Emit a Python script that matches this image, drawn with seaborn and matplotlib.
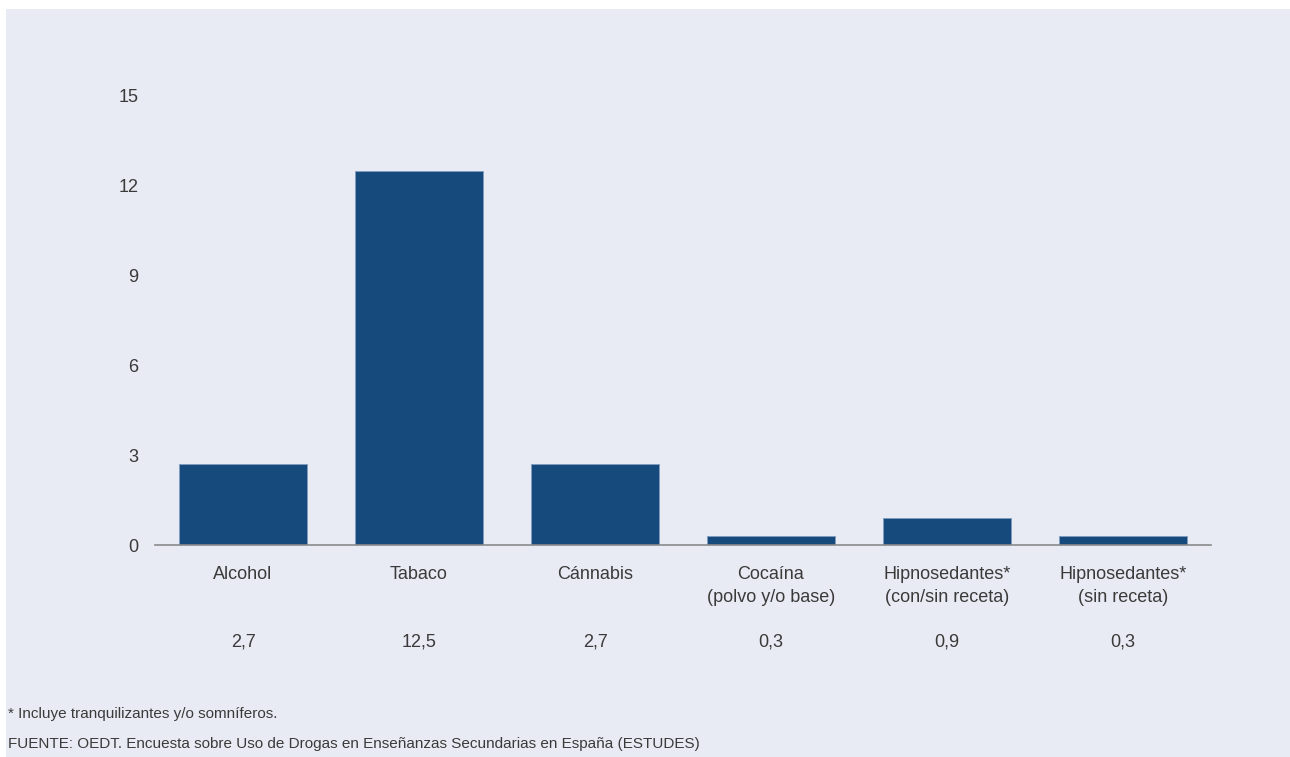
"""
plot.py
-------
Bar chart of consumption prevalence by substance (ESTUDES), seaborn version.
"""

import matplotlib
matplotlib.use("Agg")
import matplotlib.pyplot as plt
from matplotlib.patches import Rectangle
from matplotlib.transforms import blended_transform_factory
import pandas as pd
import seaborn as sns

CATEGORIES = [
    "Alcohol",
    "Tabaco",
    "Cánnabis",
    "Cocaína\n(polvo y/o base)",
    "Hipnosedantes*\n(con/sin receta)",
    "Hipnosedantes*\n(sin receta)",
]
VALUES = [2.7, 12.5, 2.7, 0.3, 0.9, 0.3]
Y_TICKS = [0, 3, 6, 9, 12, 15]

FOOTNOTE = "* Incluye tranquilizantes y/o somníferos."
SOURCE = "FUENTE: OEDT. Encuesta sobre Uso de Drogas en Enseñanzas Secundarias en España (ESTUDES)"

BG = "#e8ebf3"
BAR = "#174a7c"
TEXT = "#3a3a3a"


def main():
    sns.set_style("white")
    plt.rcParams["font.family"] = ["Liberation Sans", "DejaVu Sans"]

    W, H = 1290, 757
    # figure is the light panel; white strips give the thin top/left margin
    fig = plt.figure(figsize=(W / 100, H / 100), dpi=100, facecolor=BG)
    fig.add_artist(Rectangle((0, 1 - 9 / H), 1, 9 / H, transform=fig.transFigure,
                             facecolor="white", edgecolor="none"))
    fig.add_artist(Rectangle((0, 0), 6 / W, 1, transform=fig.transFigure,
                             facecolor="white", edgecolor="none"))

    ax = fig.add_axes([155 / W, 1 - 545 / H, (1211 - 155) / W, (545 - 96) / H])
    ax.set_facecolor(BG)

    df = pd.DataFrame({"cat": CATEGORIES, "val": VALUES})
    sns.barplot(data=df, x="cat", y="val", color=BAR, width=0.727, saturation=1,
                edgecolor="#7f9cc0", linewidth=0.6, ax=ax)

    ax.set_xlim(-0.5, len(CATEGORIES) - 0.5)
    ax.set_ylim(0, 15)
    ax.set_yticks(Y_TICKS)
    ax.set_yticklabels([str(t) for t in Y_TICKS])
    ax.set_xlabel("")
    ax.set_ylabel("")

    for s in ["top", "right", "left"]:
        ax.spines[s].set_visible(False)
    ax.spines["bottom"].set_color("#8a8a8a")
    ax.spines["bottom"].set_linewidth(1.2)

    ax.tick_params(axis="y", length=0, pad=12, labelsize=13, labelcolor=TEXT)
    ax.tick_params(axis="x", length=0, pad=15, labelsize=13, labelcolor=TEXT)
    for lbl in ax.get_xticklabels():
        lbl.set_linespacing(1.45)

    # value row under category labels
    trans = blended_transform_factory(ax.transData, ax.transAxes)
    for i, v in enumerate(VALUES):
        ax.text(i, -0.216, f"{v:.1f}".replace(".", ","), transform=trans,
                ha="center", va="center", fontsize=13, color=TEXT)

    fig.text(8 / W, 1 - 714 / H, FOOTNOTE, ha="left", va="center", fontsize=11, color=TEXT)
    fig.text(8 / W, 1 - 744 / H, SOURCE, ha="left", va="center", fontsize=11, color=TEXT)

    fig.savefig("out.png", dpi=100, facecolor=BG)
    plt.close(fig)


if __name__ == "__main__":
    main()
